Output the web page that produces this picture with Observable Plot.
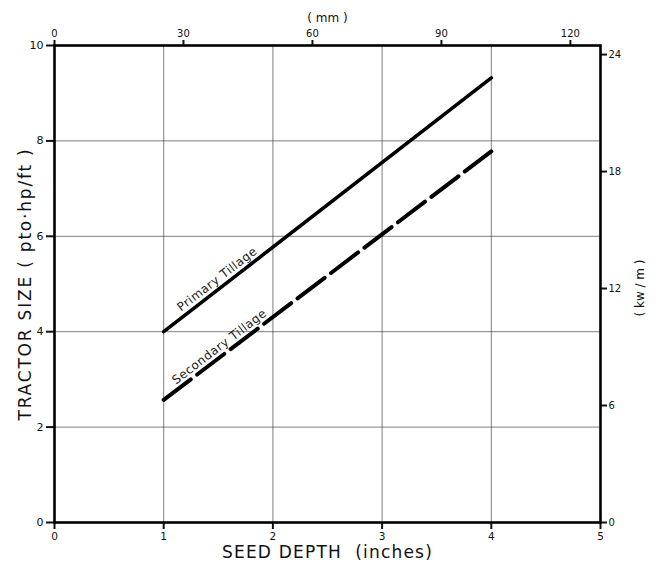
<!DOCTYPE html>
<html><head><meta charset="utf-8">
<script src="https://cdn.jsdelivr.net/npm/d3@7"></script>
<script src="https://cdn.jsdelivr.net/npm/@observablehq/plot@0.6"></script>
<style>
body{margin:0;background:#fff;} svg{display:block}
.lbl-x text{letter-spacing:1.2px}
.lbl-y text{letter-spacing:1.8px}
.lbl-series text{letter-spacing:0.5px}
</style>
</head><body><div id="chart"></div>
<script>
// Data
const depthInches = [1, 4];
const primaryHp = [4.0, 9.32];
const secondaryHp = [2.57, 7.78];
const seriesNames = ["Primary Tillage", "Secondary Tillage"];

// Tick labels
const inchTicks = [0, 1, 2, 3, 4, 5];
const hpTicks = [0, 2, 4, 6, 8, 10];
const mmTicks = [0, 30, 60, 90, 120];
const kwTicks = [0, 6, 12, 18, 24];
const gridInches = [1, 2, 3, 4];
const gridHp = [2, 4, 6, 8];

const MM_PER_IN = 25.4;
const KW_PER_HPFT = 0.7457 / 0.3048;

const primary = depthInches.map((d, i) => ({x: d, y: primaryHp[i]}));
const secondary = depthInches.map((d, i) => ({x: d, y: secondaryHp[i]}));

// label anchor points placed on each line
const at = (xs, ys, x) => ys[0] + (ys[1] - ys[0]) * (x - xs[0]) / (xs[1] - xs[0]);
const labels = [
  {name: seriesNames[0], x: 1.49, y: at(depthInches, primaryHp, 1.49)},
  {name: seriesNames[1], x: 1.51, y: at(depthInches, secondaryHp, 1.51)}
];

const font = "DejaVu Sans";
const chart = Plot.plot({
  width: 657,
  height: 565,
  marginLeft: 54,
  marginRight: 57,
  marginTop: 45,
  marginBottom: 43,
  style: {fontFamily: font, fontSize: "10px", color: "#111", background: "#fff"},
  x: {domain: [0, 5]},
  y: {domain: [0, 10]},
  marks: [
    Plot.gridX(gridInches, {stroke: "#333", strokeOpacity: 0.7, strokeWidth: 0.9}),
    Plot.gridY(gridHp, {stroke: "#333", strokeOpacity: 0.7, strokeWidth: 0.9}),
    Plot.axisX(inchTicks, {anchor: "bottom", tickSize: 7, tickPadding: 3, strokeWidth: 2, label: null, fontSize: 10.5}),
    Plot.axisX(mmTicks.map(m => m / MM_PER_IN), {anchor: "top", tickSize: 6, tickPadding: 3, strokeWidth: 2,
      tickFormat: d => Math.round(d * MM_PER_IN), label: null, fontSize: 10}),
    Plot.axisY(hpTicks, {anchor: "left", tickSize: 8, tickPadding: 3, strokeWidth: 2, label: null, fontSize: 11}),
    Plot.axisY(kwTicks.map(k => k / KW_PER_HPFT), {anchor: "right", tickSize: 6, tickPadding: 2, strokeWidth: 2,
      tickFormat: d => Math.round(d * KW_PER_HPFT), label: null, fontSize: 10}),
    Plot.frame({stroke: "#000", strokeWidth: 2.6}),
    Plot.line(primary, {x: "x", y: "y", stroke: "#000", strokeWidth: 3.6, strokeLinecap: "round"}),
    Plot.line(secondary, {x: "x", y: "y", stroke: "#000", strokeWidth: 4, strokeDasharray: "34,8"}),
    Plot.text(labels, {x: "x", y: "y", text: "name", rotate: -37.5, dy: -11, fontSize: 12, fill: "#222", className: "lbl-series"}),
    Plot.text(["SEED DEPTH  (inches)"], {frameAnchor: "bottom", textAnchor: "middle", dy: 35, fontSize: 17, fill: "#111", className: "lbl-x"}),
    Plot.text(["TRACTOR SIZE ( pto·hp/ft )"], {frameAnchor: "left", textAnchor: "middle", dx: -29, rotate: -90, fontSize: 17, fill: "#111", className: "lbl-y"}),
    Plot.text(["( kw / m )"], {frameAnchor: "right", textAnchor: "middle", dx: 40, dy: 4, rotate: -90, fontSize: 12, fill: "#111"}),
    Plot.text(["( mm )"], {frameAnchor: "top", textAnchor: "middle", dy: -32, fontSize: 12, fill: "#111"})
  ]
});
document.getElementById("chart").appendChild(chart);
</script>
</body></html>
